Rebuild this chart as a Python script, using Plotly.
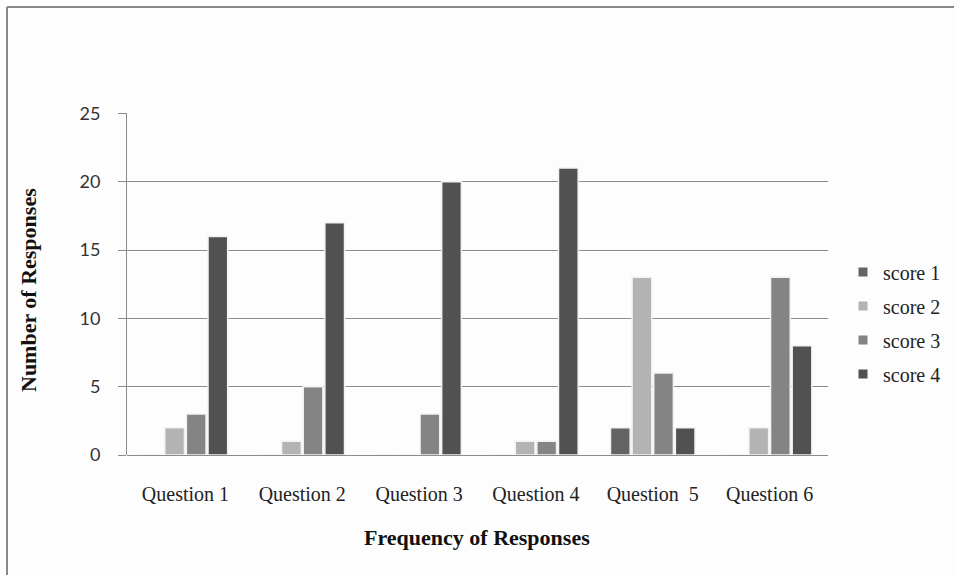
import plotly.graph_objects as go

categories = ["Question 1", "Question 2", "Question 3", "Question 4", "Question  5", "Question 6"]
series_names = ["score 1", "score 2", "score 3", "score 4"]
score1 = [0, 0, 0, 0, 2, 0]
score2 = [2, 1, 0, 1, 13, 2]
score3 = [3, 5, 3, 1, 6, 13]
score4 = [16, 17, 20, 21, 2, 8]
y_ticks = [0, 5, 10, 15, 20, 25]

colors = ["#646464", "#b3b3b3", "#848484", "#515151"]
SERIF = "Liberation Serif, Times New Roman, serif"
SANS = "Lato, Liberation Sans, sans-serif"
GRID = "#8c8c8c"

fig = go.Figure()
for i, (name, vals) in enumerate(zip(series_names, [score1, score2, score3, score4])):
    fig.add_trace(go.Bar(
        x=categories, y=vals, name=name,
        marker=dict(color=colors[i], line=dict(color="#f2f2f2", width=1.5)),
        showlegend=False,
    ))
for i, name in enumerate(series_names):
    fig.add_trace(go.Scatter(
        x=[None], y=[None], mode="markers", name=name, legendgroup=name,
        marker=dict(symbol="square", size=9, color=colors[i]),
    ))

W, H = 954, 575
L, R, T, B = 127, 126, 113, 120
pw, ph = W - L - R, H - T - B
fx = lambda px: (px - L) / pw
fy = lambda py: (H - B - py) / ph

fig.update_layout(
    width=W, height=H,
    margin=dict(l=L, r=R, t=T, b=B, autoexpand=False),
    paper_bgcolor="#fdfdfd", plot_bgcolor="#fdfdfd",
    barmode="group", bargap=0.26, bargroupgap=0.09,
    font=dict(family=SERIF, size=20, color="#222222"),
    xaxis=dict(
        showgrid=False, showline=False, ticks="", automargin=False,
        tickfont=dict(family=SERIF, size=20, color="#222222"),
        ticklabelstandoff=25,
    ),
    yaxis=dict(
        range=[0, 25.03], tickvals=y_ticks, showgrid=True, automargin=False,
        gridcolor=GRID, gridwidth=1, zeroline=True, zerolinecolor=GRID,
        zerolinewidth=1, showline=True, linecolor=GRID, linewidth=1,
        ticks="outside", ticklen=8, tickcolor=GRID, tickwidth=1,
        ticklabelstandoff=14,
        tickfont=dict(family=SANS, size=18, color="#333333"),
    ),
    legend=dict(
        x=fx(843), y=fy(323), xanchor="left", yanchor="middle",
        traceorder="grouped", tracegroupgap=5,
        font=dict(family=SERIF, size=20, color="#222222"),
        bgcolor="rgba(0,0,0,0)", itemwidth=30,
    ),
    showlegend=True,
    annotations=[
        dict(text="<b>Frequency of Responses</b>", xref="paper", yref="paper",
             x=fx(477), y=fy(537), xanchor="center", yanchor="middle",
             showarrow=False, font=dict(family=SERIF, size=22, color="#111111")),
        dict(text="<b>Number of Responses</b>", xref="paper", yref="paper",
             x=fx(28), y=fy(290), xanchor="center", yanchor="middle", textangle=-90,
             showarrow=False, font=dict(family=SERIF, size=22, color="#111111")),
    ],
)

fig.add_shape(type="line", xref="paper", yref="paper",
              x0=fx(7), x1=fx(7), y0=fy(600), y1=fy(7),
              line=dict(color="#888888", width=2))
fig.add_shape(type="line", xref="paper", yref="paper",
              x0=fx(7), x1=fx(980), y0=fy(7), y1=fy(7),
              line=dict(color="#888888", width=2))

fig.write_html("out.html",
               config={"displayModeBar": False},
               post_script="document.body.style.margin='0';document.body.style.overflow='hidden';")
